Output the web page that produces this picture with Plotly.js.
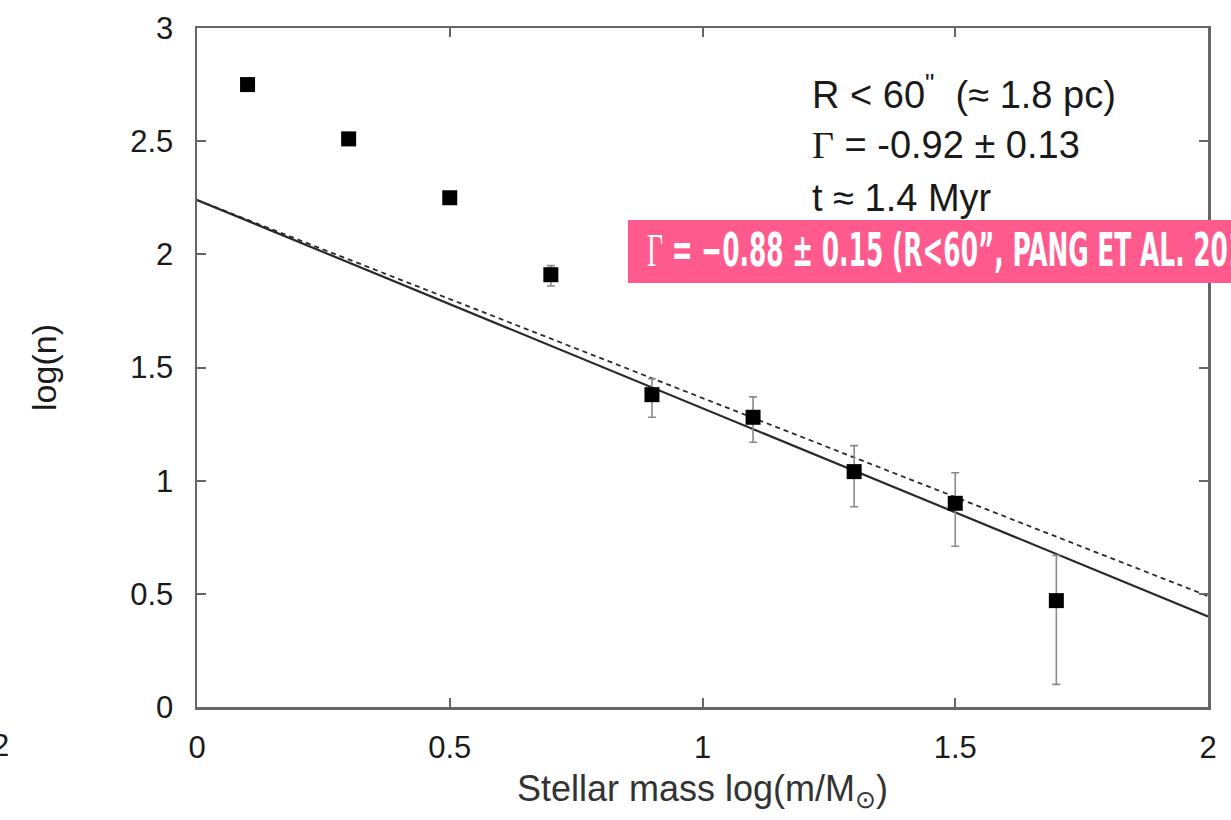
<!DOCTYPE html>
<html>
<head>
<meta charset="utf-8">
<script src="https://cdn.plot.ly/plotly-3.0.1.min.js"></script>
<style>html,body{margin:0;padding:0;background:#fff;overflow:hidden}#chart{width:1231px;height:820px}</style>
</head>
<body>
<div id="chart"></div>
<script>
// Data
const massBins = [0.1, 0.3, 0.5, 0.7, 0.9, 1.1, 1.3, 1.5, 1.7];
const logN     = [2.75, 2.51, 2.25, 1.91, 1.38, 1.28, 1.04, 0.90, 0.47];
const errUp    = [0, 0, 0, 0.04, 0.07, 0.09, 0.115, 0.135, 0.20];
const errDown  = [0, 0, 0, 0.05, 0.10, 0.11, 0.155, 0.19, 0.37];

const fitX       = [0, 2];
const fitSolidY  = [2.24, 0.40];   // Γ = -0.92
const fitDashedY = [2.24, 0.49];   // Γ = -0.88

const xTicks = [0, 0.5, 1, 1.5, 2];
const xTickText = ["0", "0.5", "1", "1.5", "2"];
const yTicks = [0, 0.5, 1, 1.5, 2, 2.5, 3];
const yTickText = ["0", "0.5", "1", "1.5", "2", "2.5", "3"];

const infoLines = [
  'R &lt; 60<sup>"</sup>  (≈ 1.8 pc)',
  '<span style="font-family:\'Liberation Serif\',serif">Γ</span> = -0.92 ± 0.13',
  't ≈ 1.4 Myr'
];
const bannerText = '<span style="font-family:\'Liberation Serif\',serif;font-weight:normal">Γ</span> = −0.88 ± 0.15 (R&lt;60”, PANG ET AL. 2013)';
const bannerVisiblePrefix = 'Γ = −0.88 ± 0.15 (R<60”, PANG ET AL. 20';

const FONT = "'Liberation Sans', Arial, Helvetica, sans-serif";
const W = 1231, H = 820;
const margin = {l: 197, r: 23, t: 28, b: 113};
const pw = W - margin.l - margin.r, ph = H - margin.t - margin.b;
const px2x = p => (p - margin.l) / pw;
const py2y = p => (H - margin.b - p) / ph;

const traces = [
  {
    x: fitX, y: fitSolidY, type: 'scatter', mode: 'lines',
    line: {color: '#2a2a2a', width: 2.2}, hoverinfo: 'skip', showlegend: false
  },
  {
    x: fitX, y: fitDashedY, type: 'scatter', mode: 'lines',
    line: {color: '#2a2a2a', width: 1.8, dash: '5px,4px'}, hoverinfo: 'skip', showlegend: false
  },
  {
    x: massBins, y: logN, type: 'scatter', mode: 'markers',
    marker: {symbol: 'square', size: 15, color: '#000'},
    error_y: {type: 'data', symmetric: false, array: errUp, arrayminus: errDown,
              color: '#8a8a8a', thickness: 1.6, width: 4},
    showlegend: false
  }
];

const annotations = infoLines.map((t, i) => ({
  xref: 'paper', yref: 'paper', x: px2x(810), y: py2y(92 + i * 53),
  xanchor: 'left', yanchor: 'middle', showarrow: false, text: t,
  font: {family: FONT, size: 38, color: '#1a1a1a'}
}));
annotations.push({
  xref: 'paper', yref: 'paper', x: px2x(645), y: py2y(250),
  xanchor: 'left', yanchor: 'middle', showarrow: false, text: bannerText,
  font: {family: "'DejaVu Sans Condensed', 'DejaVu Sans', sans-serif", size: 46, color: '#ffffff', weight: 'bold'}
});
annotations.push({
  xref: 'paper', yref: 'paper', x: px2x(0), y: py2y(745),
  xanchor: 'center', yanchor: 'middle', showarrow: false, text: '2',
  font: {family: FONT, size: 31, color: '#1a1a1a'}
});

const axisCommon = {
  showline: true, linecolor: '#666', linewidth: 2.5, mirror: 'ticks',
  ticks: 'inside', ticklen: 9, tickwidth: 2, tickcolor: '#666',
  showgrid: false, zeroline: false, tickmode: 'array',
  tickfont: {family: FONT, size: 31, color: '#1a1a1a'}
};

const layout = {
  width: W, height: H, margin: margin,
  paper_bgcolor: '#fff', plot_bgcolor: '#fff',
  font: {family: FONT},
  xaxis: Object.assign({}, axisCommon, {
    range: [0, 2], tickvals: xTicks, ticktext: xTickText, ticklabelstandoff: 11,
    title: {text: 'Stellar mass log(m/M<sub>⊙</sub>)', standoff: 12,
            font: {family: FONT, size: 36, color: '#333'}}
  }),
  yaxis: Object.assign({}, axisCommon, {
    range: [0, 3], tickvals: yTicks, ticktext: yTickText, ticklabelstandoff: 15,
    title: {text: 'log(n)', standoff: 64,
            font: {family: FONT, size: 34, color: '#1a1a1a'}}
  }),
  shapes: [{
    type: 'rect', xref: 'paper', yref: 'paper', layer: 'above',
    x0: px2x(628), x1: px2x(1300), y0: py2y(283), y1: py2y(220),
    fillcolor: '#ff5a8d', line: {width: 0}
  }],
  annotations: annotations
};

Plotly.newPlot('chart', traces, layout, {displayModeBar: false, staticPlot: true}).then(gd => {
  // Condense the banner text horizontally to mimic the narrow display face
  const el = gd.querySelector('.annotation[data-index="3"] text.annotation-text');
  if (!el) return;
  const bb = el.getBBox();
  let prefixW = 0;
  try { prefixW = el.getSubStringLength(0, bannerVisiblePrefix.length); } catch (e) { prefixW = 0; }
  const target = 1228 - 647;
  const s = prefixW > 0 ? target / prefixW : 0.62;
  const x0 = bb.x;
  const prev = el.getAttribute('transform') || '';
  el.setAttribute('transform', prev + ` translate(${x0 * (1 - s)},0) scale(${s},1)`);
});
</script>
</body>
</html>
